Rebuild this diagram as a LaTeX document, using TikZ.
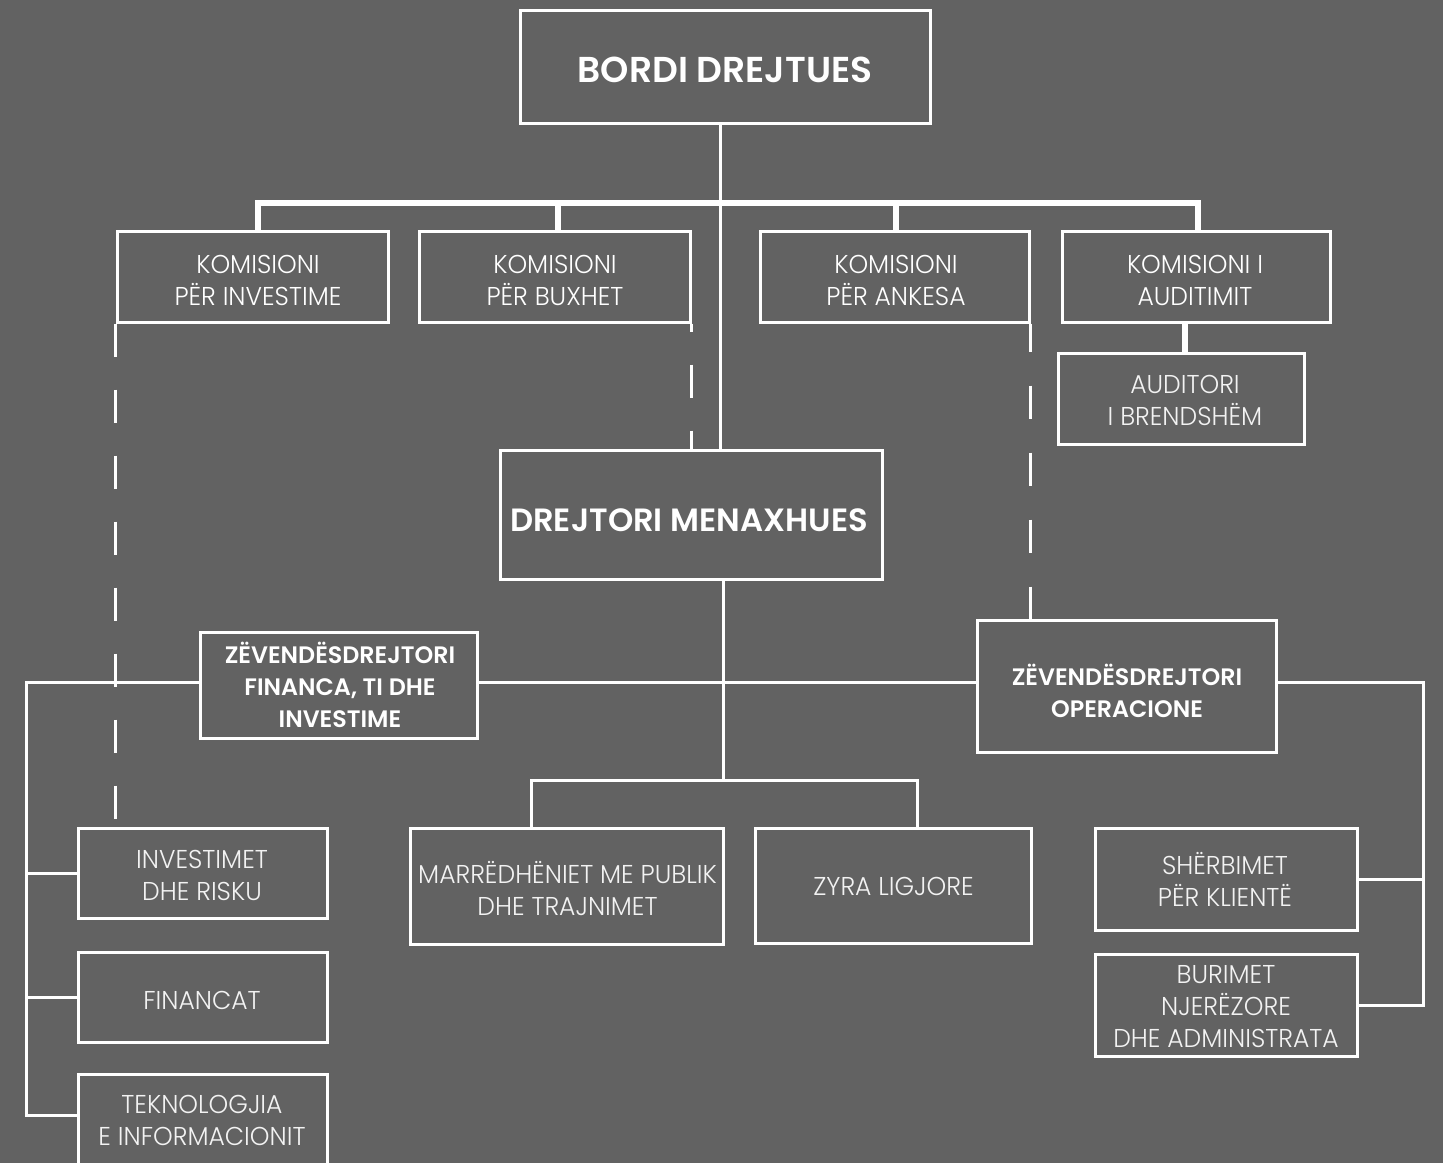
\documentclass[tikz,border=0pt]{standalone}
\usepackage{fontspec}
\setmainfont{Poppins}[UprightFont=* Light, BoldFont=* Medium, FakeStretch=0.97]
\newfontfamily\hfont{Poppins SemiBold}
\definecolor{bg}{HTML}{626262}
\definecolor{lt}{HTML}{F2F2F2}
\begin{document}
\begin{tikzpicture}[x=0.5pt,y=-0.5pt,
  box/.style={draw=white, line width=1.5pt, inner sep=0pt},
  txt/.style={inner sep=0pt, align=center, text=lt, font=\fontsize{12.9}{16}\selectfont},
  ktxt/.style={txt, text=white},
  bbig/.style={txt, text=white, font=\fontsize{18}{22}\selectfont\hfont},
  bdir/.style={txt, text=white, font=\fontsize{16.1}{20}\selectfont\hfont},
  bmid/.style={txt, text=white, font=\fontsize{11.9}{16}\selectfont\hfont},
  conn/.style={draw=white, line width=1.5pt},
  thk/.style={draw=white, line width=3pt},
  dsh/.style={conn, dash pattern=on 16.5pt off 16.5pt}]
\fill[bg] (0,0) rectangle (1443,1163);
\useasboundingbox (0,0) rectangle (1443,1163);

% boxes
\node[box, minimum width=205pt, minimum height=56.5pt] (bordi) at (725,66.5) {};
\node[box, minimum width=135.5pt, minimum height=45.5pt] (kinv) at (252.5,276.5) {};
\node[box, minimum width=135.5pt, minimum height=45.5pt] (kbux) at (554.5,276.5) {};
\node[box, minimum width=134.5pt, minimum height=45.5pt] (kank) at (894.5,276.5) {};
\node[box, minimum width=134pt, minimum height=45.5pt] (kaud) at (1196,276.5) {};
\node[box, minimum width=123pt, minimum height=45.5pt] (audi) at (1181,398.5) {};
\node[box, minimum width=191pt, minimum height=64.5pt] (drej) at (691,514.5) {};
\node[box, minimum width=138.5pt, minimum height=53pt] (zfin) at (338.5,685) {};
\node[box, minimum width=149.5pt, minimum height=66pt] (zops) at (1126.5,686) {};
\node[box, minimum width=124.5pt, minimum height=45pt] (inv) at (202.5,873) {};
\node[box, minimum width=124.5pt, minimum height=45pt] (fin) at (202.5,997) {};
\node[box, minimum width=124.5pt, minimum height=46pt] (tek) at (202.5,1120) {};
\node[box, minimum width=156.5pt, minimum height=58pt] (marr) at (566.5,886) {};
\node[box, minimum width=138pt, minimum height=57.5pt] (zyra) at (893,885.5) {};
\node[box, minimum width=131pt, minimum height=51pt] (sherb) at (1226,879) {};
\node[box, minimum width=131pt, minimum height=51pt] (bur) at (1226,1005) {};

% texts
\node[bbig] (bordit) at (725,70) {BORDI DREJTUES};
\node[ktxt] (kinvt) at (258,280) {KOMISIONI\\PËR INVESTIME};
\node[ktxt] (kbuxt) at (555,280) {KOMISIONI\\PËR BUXHET};
\node[ktxt] (kankt) at (896,280) {KOMISIONI\\PËR ANKESA};
\node[ktxt] (kaudt) at (1195,280) {KOMISIONI I\\AUDITIMIT};
\node[txt] (audit) at (1185,400) {AUDITORI\\I BRENDSHËM};
\node[bdir] (drejt) at (689,520) {DREJTORI MENAXHUES};
\node[bmid] (zfint) at (340,685) {ZËVENDËSDREJTORI\\FINANCA, TI DHE\\INVESTIME};
\node[bmid] (zopst) at (1127,691) {ZËVENDËSDREJTORI\\OPERACIONE};
\node[txt] (invt) at (202,875.5) {INVESTIMET\\DHE RISKU};
\node[txt] (fint) at (202,1000) {FINANCAT};
\node[txt] (tekt) at (202,1120) {TEKNOLOGJIA\\E INFORMACIONIT};
\node[txt] (marrt) at (567.5,888) {MARRËDHËNIET ME PUBLIK\\DHE TRAJNIMET};
\node[txt] (zyrat) at (893.5,886) {ZYRA LIGJORE};
\node[txt] (sherbt) at (1225,879) {SHËRBIMET\\PËR KLIENTË};
\node[txt] (burt) at (1226,1007) {BURIMET\\NJERËZORE\\DHE ADMINISTRATA};

\coordinate (cx) at (720,0);
\coordinate (bar) at (0,203);
\coordinate (d1) at (258,0);
\coordinate (d2) at (558,0);
\coordinate (d3) at (896,0);
\coordinate (d4) at (1198,0);
\coordinate (aux) at (1185,0);
\coordinate (mx) at (723,0);
\coordinate (hz) at (0,682);
\coordinate (hb) at (0,780);
\coordinate (m1) at (531,0);
\coordinate (m2) at (917,0);
\coordinate (lx) at (26,0);
\coordinate (rx) at (1423,0);
\coordinate (tb) at (0,1115);

% board to director
\draw[conn] (bordi.south -| cx) -- (drej.north -| cx);
% committee bar
\draw[thk] (kinv.north -| d1) -- (d1 |- bar) -- (d4 |- bar) -- (kaud.north -| d4);
\draw[thk] (d2 |- bar) -- (kbux.north -| d2);
\draw[thk] (d3 |- bar) -- (kank.north -| d3);
\draw[thk] (kaud.south -| aux) -- (audi.north -| aux);
% dashed
\draw[dsh] (kinv.south west) -- (inv.north -| kinv.south west);
\draw[conn, dash pattern=on 16.5pt off 16.5pt, dash phase=12.5pt] (kbux.south east) -- (drej.north -| kbux.south east);
\draw[conn, dash pattern=on 16.5pt off 17pt, dash phase=2.5pt] (kank.south east) -- (zops.north -| kank.south east);
% director down
\draw[conn] (drej.south -| mx) -- (mx |- hb);
\draw[conn] (zfin.east |- hz) -- (zops.west |- hz);
\draw[conn] (marr.north -| m1) -- (m1 |- hb) -- (m2 |- hb) -- (zyra.north -| m2);
% left tree
\draw[conn] (zfin.west |- hz) -- (lx |- hz) -- (lx |- tb) -- (tek.west |- tb);
\draw[conn] (lx |- inv.west) -- (inv.west);
\draw[conn] (lx |- fin.west) -- (fin.west);
% right tree
\draw[conn] (zops.east |- hz) -- (rx |- hz) -- (rx |- bur.east) -- (bur.east);
\draw[conn] (rx |- sherb.east) -- (sherb.east);
\end{tikzpicture}
\end{document}
